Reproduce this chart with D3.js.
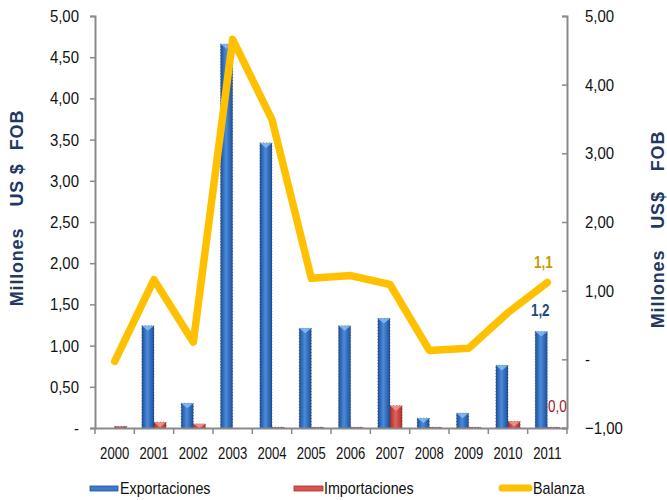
<!DOCTYPE html>
<html><head><meta charset="utf-8">
<script src="https://cdn.jsdelivr.net/npm/d3@7"></script>
<style>
body{margin:0;background:#fff;}
svg{display:block;font-family:"Liberation Sans",Arial,sans-serif;}
</style></head>
<body>
<svg id="c" width="667" height="500"></svg>
<script>
const years = ["2000","2001","2002","2003","2004","2005","2006","2007","2008","2009","2010","2011"];
const exportaciones = [0.00,1.24,0.30,4.66,3.46,1.21,1.24,1.33,0.12,0.18,0.76,1.17];
const importaciones = [0.02,0.07,0.05,0.00,0.01,0.01,0.01,0.27,0.01,0.01,0.08,0.01];
const balanza = [-0.03,1.16,0.25,4.66,3.49,1.18,1.22,1.09,0.13,0.16,0.68,1.12];
const leftTicks = [0,0.5,1,1.5,2,2.5,3,3.5,4,4.5,5];
const rightTicks = [-1,0,1,2,3,4,5];
const seriesNames = ["Exportaciones","Importaciones","Balanza"];
const leftTitle = ["Millones","US $","FOB"];
const rightTitle = ["Millones","US$","FOB"];

const svg = d3.select("#c");
const L = 95, R = 567, T = 16, B = 428;
const x = d3.scaleBand().domain(years).range([L, R]);
const xi = d3.scaleBand().domain(["e","i"]).range([0, x.bandwidth()]).paddingInner(0).paddingOuter(0.62);
const yL = d3.scaleLinear().domain([0,5]).range([B,T]);
const yR = d3.scaleLinear().domain([-1,5]).range([B,T]);
const fmt = v => v === 0 ? "-" : d3.format(".2f")(v).replace(".", ",");

// horizontally condense text to mimic a narrow face
function condense(sel, factor){
  sel.each(function(){
    const w = this.getComputedTextLength();
    if (w > 0) d3.select(this).attr("textLength", (w*factor).toFixed(1)).attr("lengthAdjust","spacingAndGlyphs");
  });
}

const defs = svg.append("defs");
function grad(id, edge, mid){
  const g = defs.append("linearGradient").attr("id", id).attr("x1","0").attr("x2","1").attr("y1","0").attr("y2","0");
  g.append("stop").attr("offset","0").attr("stop-color", edge);
  g.append("stop").attr("offset","0.45").attr("stop-color", mid);
  g.append("stop").attr("offset","1").attr("stop-color", edge);
}
grad("gb","#1d4f96","#4a8bdc");
grad("gr","#a8302c","#e2615c");

// Bars
const gBars = svg.append("g");
function bars(vals, key, fill, cap){
  const w = xi.bandwidth();
  const g = gBars.selectAll("g."+key).data(years).join("g").attr("class", key);
  g.append("rect")
    .attr("x", d => x(d) + xi(key))
    .attr("y", (d,i) => yL(vals[i]))
    .attr("width", w)
    .attr("height", (d,i) => B - yL(vals[i]))
    .attr("fill", fill)
    .attr("stroke", "#333").attr("stroke-width", 0.6).attr("stroke-dasharray","1,2")
    .attr("display", (d,i) => vals[i] > 0 ? null : "none");
  g.append("path")
    .attr("d", (d,i) => {
      const x0 = x(d) + xi(key), y0 = yL(vals[i]), h = Math.min(5, B - y0);
      return `M${x0},${y0}L${x0+w},${y0}L${x0+w/2},${y0+h}Z`;
    })
    .attr("fill", cap).attr("opacity", 0.8)
    .attr("display", (d,i) => vals[i] > 0.04 ? null : "none");
}
bars(exportaciones, "e", "url(#gb)", "#8ec0f5");
bars(importaciones, "i", "url(#gr)", "#f29b97");

// Axes
const axisColor = "#8a8a8a";
const ax = svg.append("g").attr("transform", `translate(0,${B})`)
  .call(d3.axisBottom(x).tickSize(0).tickPadding(0).tickFormat(d => d));
ax.select(".domain").attr("stroke", axisColor).attr("stroke-width", 2);
ax.selectAll("text").attr("font-size", 17).attr("fill", "#111").attr("y", 31).attr("dy", null);
condense(ax.selectAll("text"), 0.77);
svg.append("g").selectAll("line").data(years.concat(["end"])).join("line")
  .attr("x1", (d,i) => L + i*x.step()).attr("x2", (d,i) => L + i*x.step())
  .attr("y1", B).attr("y2", B+6).attr("stroke", axisColor).attr("stroke-width", 1.5);

const al = svg.append("g").attr("transform", `translate(${L},0)`)
  .call(d3.axisLeft(yL).tickValues(leftTicks).tickFormat(fmt).tickSize(5).tickPadding(11));
al.select(".domain").attr("stroke", axisColor).attr("stroke-width", 2);
al.selectAll(".tick line").attr("stroke", axisColor).attr("stroke-width", 1.5);
al.selectAll("text").attr("font-size", 17).attr("fill", "#111");
condense(al.selectAll("text"), 0.88);

const ar = svg.append("g").attr("transform", `translate(${R},0)`)
  .call(d3.axisRight(yR).tickValues(rightTicks).tickFormat(fmt).tickSize(-5).tickPadding(18));
ar.select(".domain").attr("stroke", axisColor).attr("stroke-width", 2);
ar.selectAll(".tick line").attr("stroke", axisColor).attr("stroke-width", 1.5);
ar.selectAll("text").attr("font-size", 17).attr("fill", "#111");
condense(ar.selectAll("text"), 0.88);

// Axis titles (rotated words)
function title(words, bx, centers){
  svg.append("g").selectAll("text").data(words).join("text")
    .attr("transform", (d,i) => `translate(${bx},${centers[i]}) rotate(-90)`)
    .attr("text-anchor","middle").attr("font-size",18).attr("font-weight","bold")
    .attr("letter-spacing", 0.8).attr("fill","#1f3864")
    .text(d => d);
}
title(leftTitle, 23, [267, 185, 130]);
title(rightTitle, 664, [289, 210, 151]);

// Line
const line = d3.line().x((d,i) => x(years[i]) + x.bandwidth()/2).y(d => yR(d));
svg.append("path").datum(balanza).attr("d", line)
  .attr("fill","none").attr("stroke","#ffc000").attr("stroke-width",7.5)
  .attr("stroke-linejoin","round").attr("stroke-linecap","round");

// Data labels
const last = years.length - 1;
const fmt1 = v => d3.format(".1f")(v).replace(".", ",");
const dl = svg.append("g").attr("font-size",16).attr("font-weight","bold").attr("text-anchor","middle");
dl.append("text").attr("x", x(years[last]) + x.bandwidth()/2 - 4).attr("y", yR(balanza[last]) - 14)
  .attr("fill","#c99a00").text(fmt1(balanza[last]));
dl.append("text").attr("x", x(years[last]) + xi("e") + xi.bandwidth()/2 - 1).attr("y", yL(exportaciones[last]) - 16)
  .attr("fill","#1f497d").text(fmt1(exportaciones[last]));
dl.append("text").attr("x", x(years[last]) + xi("i") + xi.bandwidth()/2 + 4).attr("y", yL(importaciones[last]) - 15)
  .attr("fill","#a0181e").attr("font-weight","normal").text(fmt1(importaciones[last]));
condense(dl.selectAll("text"), 0.84);

// Legend
const leg = svg.append("g").attr("font-size", 17).attr("fill","#111");
const legX = [90, 294, 498];
leg.append("rect").attr("x", legX[0]).attr("y", 486).attr("width", 28).attr("height", 5).attr("fill","#3d7ccc").attr("stroke","#1d4f96").attr("stroke-width",0.8);
leg.append("rect").attr("x", legX[1]).attr("y", 486).attr("width", 29).attr("height", 5).attr("fill","#d9534f").attr("stroke","#a8302c").attr("stroke-width",0.8);
leg.append("line").attr("x1", legX[2]+4).attr("x2", legX[2]+31).attr("y1", 488).attr("y2", 488).attr("stroke","#ffc000").attr("stroke-width",7).attr("stroke-linecap","round");
leg.selectAll("text.l").data(seriesNames).join("text").attr("class","l")
  .attr("x", (d,i) => legX[i] + (i===2 ? 35 : 30)).attr("y", 494).text(d => d);
condense(leg.selectAll("text.l"), 0.84);
</script>
</body></html>
